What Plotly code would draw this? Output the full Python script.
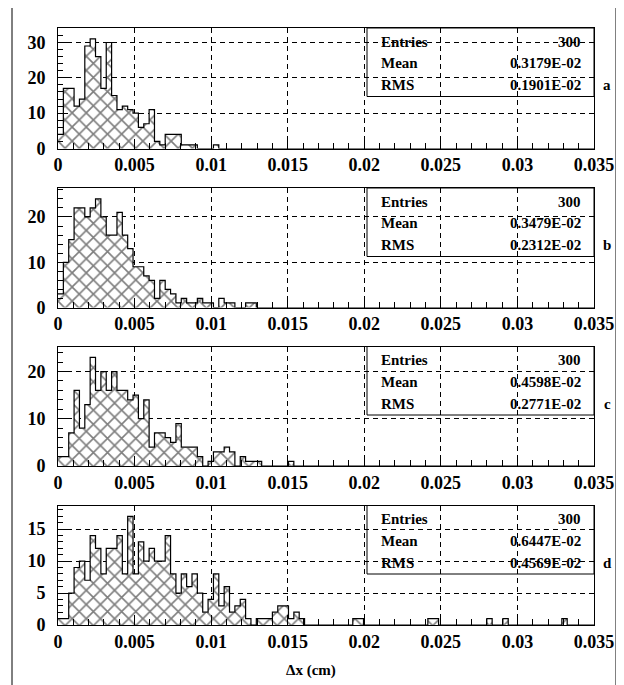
import plotly.graph_objects as go

# ---------------- data ----------------
NBINS = 100
XMIN, XMAX = 0.0, 0.035

counts_a = [4, 17, 17, 12, 14, 29, 31, 26, 17, 30, 15, 11, 12, 11, 10, 6, 7, 11, 2, 1,
            4, 4, 4, 1, 1, 1, 0, 0, 0, 1]
counts_b = [3, 10, 15, 22, 22, 20, 22, 24, 20, 16, 16, 21, 16, 13, 9, 9, 7, 6, 2, 6,
            4, 3, 1, 2, 1, 1, 2, 1, 1, 0, 2, 1, 1, 0, 0, 1, 1]
counts_c = [2, 2, 7, 16, 8, 13, 23, 16, 20, 16, 20, 16, 16, 14, 15, 10, 14, 4, 7, 7,
            6, 5, 9, 4, 4, 4, 2, 0, 1, 3, 3, 4, 3, 0, 2, 1, 1, 1, 0, 0,
            0, 0, 0, 1]
counts_d = [1, 1, 5, 9, 10, 7, 14, 12, 8, 12, 12, 14, 8, 17, 8, 13, 10, 12, 10, 10,
            14, 8, 5, 8, 6, 8, 5, 2, 4, 8, 3, 6, 2, 3, 4, 1, 0, 1, 1, 1,
            2, 3, 3, 1, 2, 1, 0, 0, 0, 0, 0, 0, 0, 0, 0, 1, 1, 0, 0, 0,
            0, 0, 0, 0, 0, 0, 0, 0, 0, 1, 1, 0, 0, 0, 0, 0, 0, 0, 0, 0,
            1, 0, 0, 1, 0, 0, 0, 0, 0, 0, 0, 0, 0, 0, 1]

panel_names = ["a", "b", "c", "d"]
entries = ["300", "300", "300", "300"]
means = ["0.3179E-02", "0.3479E-02", "0.4598E-02", "0.6447E-02"]
rmss = ["0.1901E-02", "0.2312E-02", "0.2771E-02", "0.4569E-02"]
y_max = [34.1, 26.4, 25.3, 18.7]
y_ticks = [[0, 10, 20, 30], [0, 10, 20], [0, 10, 20], [0, 5, 10, 15]]
y_minor = [2, 2, 2, 1]
x_ticks = [0, 0.005, 0.01, 0.015, 0.02, 0.025, 0.03, 0.035]
x_ticktext = ["0", "0.005", "0.01", "0.015", "0.02", "0.025", "0.03", "0.035"]
x_title = "Δx (cm)"

all_counts = [counts_a, counts_b, counts_c, counts_d]

# ---------------- layout geometry (window pixels) ----------------
OFF = 8                      # default page body margin
W, H = 624 - OFF, 685 - OFF  # figure size
PL, PR, PT, PB = 58, 594, 28, 625   # plot area in window pixels
ML, MR, MT, MB = PL - OFF, (OFF + W) - PR, PT - OFF, (OFF + H) - PB
PW = W - ML - MR
PH = H - MT - MB
panel_px = [(28, 148.5), (188, 307.5), (346.5, 466), (505.5, 625)]


def frac(py):
    return (PB - py) / PH


def xfrac(px):
    return (px - PL) / PW


FONT = "Liberation Serif"
bw = (XMAX - XMIN) / NBINS

fig = go.Figure()
layout = dict(
    width=W, height=H,
    margin=dict(l=ML, r=MR, t=MT, b=MB, pad=0, autoexpand=False),
    paper_bgcolor="white", plot_bgcolor="white",
    showlegend=False, bargap=0, barmode="overlay",
    font=dict(family=FONT, color="black"),
)

annotations = []
shapes = []

for i, (name, counts) in enumerate(zip(panel_names, all_counts)):
    full = list(counts) + [0] * (NBINS - len(counts))
    centers = [XMIN + (k + 0.5) * bw for k in range(NBINS)]
    edges = [XMIN + k * bw for k in range(NBINS + 1)]
    n = "" if i == 0 else str(i + 1)
    xa, ya = "x" + n, "y" + n
    fig.add_trace(go.Bar(
        x=centers, y=full, width=bw, xaxis=xa, yaxis=ya,
        marker=dict(color="white", line=dict(width=0),
                    pattern=dict(shape="x", fgcolor="black", bgcolor="white",
                                 size=10, solidity=0.3)),
        hoverinfo="skip",
    ))
    fig.add_trace(go.Scatter(
        x=edges, y=full + [full[-1]], mode="lines", line_shape="hv",
        line=dict(color="black", width=1.2), xaxis=xa, yaxis=ya, hoverinfo="skip",
    ))
    top, bot = panel_px[i]
    layout["xaxis" + n] = dict(
        domain=[0, 1], anchor=ya, range=[XMIN, XMAX], automargin=False,
        tickvals=x_ticks, ticktext=x_ticktext,
        ticks="inside", ticklen=10, tickcolor="black",
        minor=dict(dtick=0.001, tick0=0, ticks="inside", ticklen=6, tickcolor="black", showgrid=False),
        showline=True, linecolor="black", linewidth=1, mirror=True,
        showgrid=True, gridcolor="black", gridwidth=1, griddash="5px,4px",
        tickfont=dict(family=FONT, size=18, weight="bold", color="black"),
        zeroline=False,
    )
    layout["yaxis" + n] = dict(
        domain=[frac(bot), frac(top)], anchor=xa, range=[0, y_max[i]], automargin=False,
        tickvals=y_ticks[i], ticks="inside", ticklen=10, tickcolor="black",
        minor=dict(dtick=y_minor[i], tick0=0, ticks="inside", ticklen=5, tickcolor="black", showgrid=False),
        showline=True, linecolor="black", linewidth=1, mirror=True,
        showgrid=True, gridcolor="black", gridwidth=1, griddash="5px,4px",
        tickfont=dict(family=FONT, size=18, weight="bold", color="black"),
        zeroline=False, ticklabelstandoff=8,
    )
    # stats box
    hpx = bot - top
    box_bot = 1 - 68.5 / hpx
    shapes.append(dict(type="rect", xref=xa + " domain", yref=ya + " domain",
                       x0=xfrac(367), x1=1, y0=box_bot, y1=1,
                       line=dict(color="black", width=1), fillcolor="rgba(0,0,0,0)"))
    rows = [("Entries", entries[i], 13.5), ("Mean", means[i], 35), ("RMS", rmss[i], 57)]
    for lab, val, off in rows:
        yy = 1 - off / hpx
        annotations.append(dict(xref=xa + " domain", yref=ya + " domain", x=xfrac(379), y=yy,
                                text=lab, showarrow=False, xanchor="left", yanchor="middle",
                                font=dict(family=FONT, size=15, weight="bold", color="black")))
        annotations.append(dict(xref=xa + " domain", yref=ya + " domain", x=xfrac(583), y=yy,
                                text=val, showarrow=False, xanchor="right", yanchor="middle",
                                font=dict(family=FONT, size=15, weight="bold", color="black")))
    annotations.append(dict(xref=xa + " domain", yref=ya + " domain",
                            x=xfrac(607), y=1 - 57 / hpx,
                            text=name, showarrow=False, xanchor="center", yanchor="middle",
                            font=dict(family=FONT, size=15, weight="bold", color="black")))

annotations.append(dict(xref="paper", yref="paper", x=xfrac(311),
                        y=frac(670), text=x_title, showarrow=False,
                        xanchor="center", yanchor="middle",
                        font=dict(family=FONT, size=15, weight="bold", color="black")))

# outer canvas border lines (left / right)
for px in (12, 616):
    shapes.append(dict(type="line", xref="paper", yref="paper",
                       x0=xfrac(px), x1=xfrac(px),
                       y0=frac(OFF), y1=frac(OFF + H), line=dict(color="black", width=1)))

layout["annotations"] = annotations
layout["shapes"] = shapes
fig.update_layout(**layout)
fig.write_html("out.html")
